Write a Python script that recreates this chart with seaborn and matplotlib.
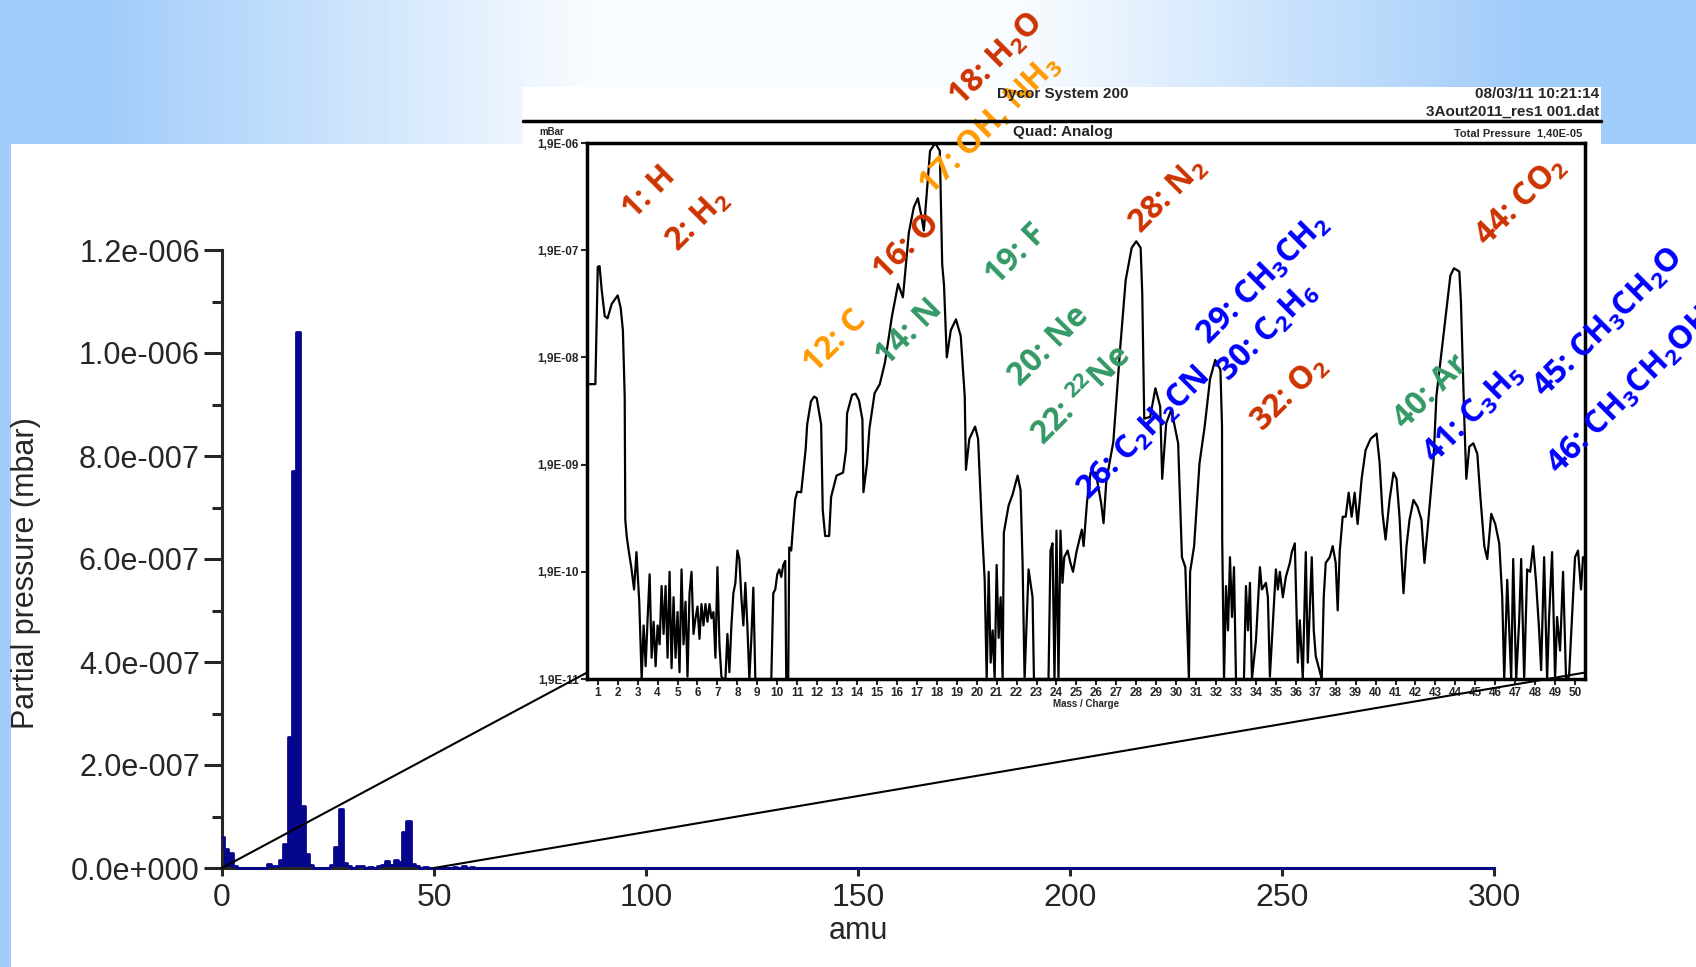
import numpy as np
import seaborn as sns
import matplotlib.pyplot as plt
from matplotlib.patches import ConnectionPatch, Rectangle
from matplotlib.lines import Line2D
from matplotlib.ticker import MultipleLocator, NullLocator

# main spectrum (linear scale), peaks; everything else is 0
main_peak_amu = [0, 1, 2, 3, 11, 12, 13, 14, 15, 16, 17, 18, 19, 20, 21,
                 26, 27, 28, 29, 30, 32, 33, 35,
                 37, 38, 39, 40, 41, 42, 43, 44, 45, 46, 48, 55, 57, 59]
main_peak_mbar = [6.0e-8, 3.7e-8, 2.9e-8, 3e-9, 8e-9, 4e-9, 3e-9, 1.5e-8, 4.6e-8, 2.55e-7, 7.7e-7, 1.04e-6, 1.21e-7, 2.8e-8, 6e-9,
                  5e-9, 4.1e-8, 1.15e-7, 1e-8, 4e-9, 3e-9, 4e-9, 2e-9,
                  4e-9, 5e-9, 1.3e-8, 6e-9, 1.6e-8, 1.1e-8, 7e-8, 9.2e-8, 8e-9, 3e-9, 2e-9, 2e-9, 3e-9, 2e-9]
main_xticks = [0, 50, 100, 150, 200, 250, 300]
main_yticks = [0, 2e-7, 4e-7, 6e-7, 8e-7, 1.0e-6, 1.2e-6]
main_ytick_labels = ['0.0e+000', '2.0e-007', '4.0e-007', '6.0e-007', '8.0e-007', '1.0e-006', '1.2e-006']

# inset: Dycor analog scan, log scale
inset_amu = [
    0.46, 0.88, 1.0, 1.09, 1.2, 1.35, 1.49, 1.7, 2.0, 2.15,
    2.26, 2.35, 2.38, 2.45, 2.55, 2.68, 2.82, 2.94, 3.08, 3.2,
    3.3, 3.4, 3.5, 3.6, 3.7, 3.8, 3.9, 4.0, 4.1, 4.2,
    4.3, 4.4, 4.5, 4.6, 4.7, 4.8, 4.9, 5.0, 5.1, 5.2,
    5.3, 5.4, 5.5, 5.6, 5.7, 5.8, 5.9, 6.0, 6.1, 6.2,
    6.3, 6.4, 6.5, 6.6, 6.7, 6.8, 6.9, 7.0, 7.1, 7.2,
    7.3, 7.4, 7.5, 7.6, 7.7, 7.8, 7.9, 8.0, 8.1, 8.2,
    8.3, 8.4, 8.5, 8.6, 8.7, 8.8, 8.9, 9.7, 9.8, 9.9,
    10.0, 10.1, 10.2, 10.3, 10.4, 10.45, 10.55, 10.6, 10.7, 10.8,
    10.9, 11.0, 11.2, 11.3, 11.42, 11.5, 11.69, 11.85, 11.98, 12.2,
    12.28, 12.4, 12.6, 12.7, 12.97, 13.3, 13.45, 13.5, 13.75, 13.93,
    14.1, 14.27, 14.32, 14.5, 14.62, 14.88, 15.14, 15.4, 15.75, 16.06,
    16.3, 16.6, 16.85, 17.05, 17.2, 17.35, 17.66, 17.92, 18.15, 18.27,
    18.36, 18.5, 18.7, 18.96, 19.2, 19.4, 19.46, 19.63, 19.92, 20.07,
    20.27, 20.4, 20.5, 20.6, 20.7, 20.8, 20.9, 21.0, 21.1, 21.2,
    21.3, 21.36, 21.6, 21.8, 22.05, 22.2, 22.3, 22.4, 22.6, 22.8,
    22.87, 23.6, 23.7, 23.8, 23.9, 24.0, 24.1, 24.2, 24.3, 24.39,
    24.56, 24.7, 24.83, 25.0, 25.27, 25.36, 25.53, 25.71, 25.97, 26.24,
    26.36, 26.5, 26.85, 27.2, 27.47, 27.77, 28.0, 28.22, 28.3, 28.4,
    28.7, 28.96, 29.2, 29.3, 29.5, 29.76, 30.1, 30.29, 30.46, 30.64,
    30.7, 30.9, 31.17, 31.43, 31.7, 31.96, 32.22, 32.3, 32.31, 32.4,
    32.5, 32.6, 32.7, 32.8, 32.9, 33.0, 33.4, 33.5, 33.6, 33.7,
    33.8, 34.0, 34.2, 34.3, 34.5, 34.6, 34.7, 34.8, 35.0, 35.1,
    35.2, 35.35, 35.5, 35.7, 35.8, 35.95, 36.1, 36.2, 36.35, 36.5,
    36.6, 36.8, 36.9, 37.0, 37.3, 37.4, 37.5, 37.7, 37.85, 38.0,
    38.1, 38.2, 38.35, 38.5, 38.65, 38.8, 38.95, 39.1, 39.3, 39.5,
    39.75, 40.05, 40.2, 40.35, 40.5, 40.7, 40.9, 41.05, 41.2, 41.3,
    41.4, 41.55, 41.7, 41.9, 42.1, 42.3, 42.45, 42.6, 42.75, 42.9,
    43.05, 43.4, 43.75, 43.93, 44.2, 44.28, 44.46, 44.55, 44.7, 44.9,
    45.1, 45.25, 45.45, 45.6, 45.8, 46.0, 46.2, 46.35, 46.45, 46.6,
    46.8, 46.9, 47.05, 47.2, 47.3, 47.45, 47.6, 47.75, 47.9, 48.05,
    48.2, 48.3, 48.45, 48.6, 48.7, 48.85, 49.0, 49.1, 49.25, 49.4,
    49.55, 49.7, 49.85, 50.0, 50.15, 50.3, 50.4, 50.5]
inset_mbar = [
    1.07e-8, 1.07e-8, 1.33e-7, 1.35e-7, 8e-8, 4.6e-8, 4.4e-8, 6e-8, 7.2e-8, 5.5e-8,
    3.4e-8, 8.2e-9, 5.8e-10, 4.1e-10, 3e-10, 2.1e-10, 1.3e-10, 2.9e-10, 1.0e-10, 1.9e-11,
    6e-11, 2.5e-11, 7e-11, 1.8e-10, 3e-11, 6.5e-11, 2.5e-11, 6e-11, 4e-11, 1.4e-10,
    5e-11, 1.4e-10, 3e-11, 1.9e-10, 2.4e-11, 1.1e-10, 3e-11, 8e-11, 2.2e-11, 2e-10,
    4e-11, 1e-10, 2e-11, 1.2e-10, 1.9e-10, 5e-11, 7e-11, 9e-11, 4.5e-11, 9.5e-11,
    6e-11, 9.5e-11, 6.5e-11, 9.5e-11, 7e-11, 8e-11, 3e-11, 2.1e-10, 4e-11, 2e-11,
    1.9e-11, 1.9e-11, 5e-11, 2.2e-11, 6e-11, 1.2e-10, 1.5e-10, 3e-10, 2.5e-10, 1.1e-10,
    6e-11, 1.5e-10, 6e-11, 1.9e-11, 4.5e-11, 1.35e-10, 1.9e-11, 1.9e-11, 1.2e-10, 1.3e-10,
    1.8e-10, 2e-10, 1.7e-10, 2.2e-10, 2.4e-10, 1.9e-11, 1.9e-11, 3.2e-10, 3e-10, 5.3e-10,
    9e-10, 1.06e-9, 1.05e-9, 1.6e-9, 2.6e-9, 4.5e-9, 7.4e-9, 8.2e-9, 7.9e-9, 4.5e-9,
    7.2e-10, 4.1e-10, 4.1e-10, 9.5e-10, 1.5e-9, 1.6e-9, 2.6e-9, 5.7e-9, 8.5e-9, 8.7e-9,
    7.5e-9, 5e-9, 1.05e-9, 1.95e-9, 4.1e-9, 8.8e-9, 1.07e-8, 1.7e-8, 4.6e-8, 9.2e-8,
    6.9e-8, 2.8e-7, 4.8e-7, 5.8e-7, 4.2e-7, 2.9e-7, 1.6e-6, 1.9e-6, 1.6e-6, 1.4e-7,
    9e-8, 1.9e-8, 3.4e-8, 4.3e-8, 3e-8, 8.2e-9, 1.7e-9, 3.3e-9, 4.3e-9, 3.3e-9,
    4.6e-10, 1.6e-10, 1.9e-11, 1.9e-10, 2.7e-11, 5.4e-11, 1.9e-11, 2.2e-10, 4.6e-11, 1.1e-10,
    1.9e-11, 4.4e-10, 7.9e-10, 1.0e-9, 1.5e-9, 1.1e-9, 2.3e-10, 1.9e-11, 2e-10, 1.1e-10,
    1.9e-11, 1.9e-11, 3e-10, 3.5e-10, 1.9e-11, 4.6e-10, 1.9e-11, 4.6e-10, 1.5e-10, 2.6e-10,
    3e-10, 2.3e-10, 1.9e-10, 2.9e-10, 4.7e-10, 3.3e-10, 8.5e-10, 1.6e-9, 1.6e-9, 8.3e-10,
    5.4e-10, 1.35e-9, 3.1e-9, 2.4e-8, 1.0e-7, 2.0e-7, 2.3e-7, 2e-7, 7.5e-8, 5.1e-9,
    5.3e-9, 9.8e-9, 6.6e-9, 1.4e-9, 4.6e-9, 6.2e-9, 3.0e-9, 2.6e-10, 2.1e-10, 1.9e-11,
    1.9e-10, 3.3e-10, 1.95e-9, 4.3e-9, 1.2e-8, 1.8e-8, 1.46e-8, 4.3e-9, 3.8e-10, 1.9e-11,
    1.4e-10, 5.4e-11, 2.6e-10, 7.2e-11, 2.1e-10, 1.9e-11, 1.9e-11, 1.4e-10, 5.4e-11, 1.5e-10,
    1.9e-11, 4.3e-11, 2.1e-10, 1.3e-10, 1.5e-10, 1.1e-10, 2e-11, 4.3e-11, 2e-10, 1.3e-10,
    1.9e-10, 1.1e-10, 1.7e-10, 2.3e-10, 2.9e-10, 3.5e-10, 2.7e-11, 6.7e-11, 1.9e-11, 2.9e-10,
    2.7e-11, 2.6e-10, 5.4e-11, 3.1e-11, 1.9e-11, 1.1e-10, 2.3e-10, 2.6e-10, 3.3e-10, 2.3e-10,
    8.3e-11, 2.9e-10, 6.2e-10, 6.2e-10, 1.04e-9, 6.2e-10, 1.04e-9, 5.3e-10, 1.4e-9, 2.6e-9,
    3.3e-9, 3.7e-9, 2e-9, 6.6e-10, 3.8e-10, 8.9e-10, 1.6e-9, 1.4e-9, 6.2e-10, 2.6e-10,
    1.2e-10, 3.3e-10, 5.8e-10, 8.9e-10, 7.7e-10, 5.8e-10, 2.3e-10, 4.6e-10, 9.7e-10, 2e-9,
    8.3e-9, 3.0e-8, 1.1e-7, 1.29e-7, 1.2e-7, 6.2e-8, 4.3e-9, 1.4e-9, 2.8e-9, 3e-9,
    2.4e-9, 9.7e-10, 3.3e-10, 2.5e-10, 6.6e-10, 5.3e-10, 3.5e-10, 1.1e-10, 1.9e-11, 1.6e-10,
    1.9e-11, 2.5e-10, 1.9e-11, 6.7e-11, 2.5e-10, 1.9e-11, 2e-10, 1.9e-10, 3.3e-10, 1.5e-10,
    5.4e-11, 2.3e-11, 2.6e-10, 1.9e-11, 7.2e-11, 2.9e-10, 1.9e-11, 7.2e-11, 3.5e-11, 1.9e-10,
    1.9e-11, 2e-11, 7.2e-11, 2.6e-10, 3e-10, 1.3e-10, 2.6e-10, 2.6e-10]
inset_xticks = list(range(1, 51))
inset_yticks = [1.9e-11, 1.9e-10, 1.9e-9, 1.9e-8, 1.9e-7, 1.9e-6]
inset_ytick_labels = ['1,9E-11', '1,9E-10', '1,9E-09', '1,9E-08', '1,9E-07', '1,9E-06']

# species labels on the inset (centre given in inset amu / mbar)
RED, ORANGE, GREEN, BLUE = '#cc3300', '#ff9900', '#339966', '#0000ff'
label_texts = ['1: H', r'2: H$_{\mathbf{2}}$', '12: C', '14: N', '16: O',
               r'17: OH, NH$_{\mathbf{3}}$', r'18: H$_{\mathbf{2}}$O', '19: F', '20: Ne',
               r'22: $^{\mathbf{22}}$Ne', r'26: C$_{\mathbf{2}}$H$_{\mathbf{2}}$CN',
               r'28: N$_{\mathbf{2}}$', r'29: CH$_{\mathbf{3}}$CH$_{\mathbf{2}}$',
               r'30: C$_{\mathbf{2}}$H$_{\mathbf{6}}$', r'32: O$_{\mathbf{2}}$', '40: Ar',
               r'41: C$_{\mathbf{3}}$H$_{\mathbf{5}}$', r'44: CO$_{\mathbf{2}}$',
               r'45: CH$_{\mathbf{3}}$CH$_{\mathbf{2}}$O', r'46: CH$_{\mathbf{3}}$CH$_{\mathbf{2}}$OH']
label_amu = [3.6, 6.05, 12.9, 16.6, 16.5, 20.7, 21.0, 22.0, 23.6, 25.3,
             28.35, 29.6, 34.4, 34.6, 35.7, 42.8, 44.9, 47.3, 51.7, 52.8]
label_mbar = [6.5e-7, 3.6e-7, 2.65e-8, 3.2e-8, 2.05e-7, 2.8e-6, 1.13e-5, 1.74e-7, 2.42e-8, 8.3e-9,
              3.7e-9, 6.1e-7, 1.02e-7, 3.3e-8, 8.7e-9, 9.1e-9, 5.7e-9, 5.4e-7, 4.0e-8, 9.1e-9]
label_colors = [RED, RED, ORANGE, GREEN, RED, ORANGE, RED, GREEN, GREEN, GREEN,
                BLUE, RED, BLUE, BLUE, RED, GREEN, BLUE, RED, BLUE, BLUE]

NAVY = '#06068c'

sns.set_style('ticks')
plt.rcParams['font.family'] = ['Liberation Sans', 'DejaVu Sans']
plt.rcParams['mathtext.fontset'] = 'custom'
plt.rcParams['mathtext.rm'] = 'Open Sans'
plt.rcParams['mathtext.bf'] = 'Open Sans:bold'

W, H = 1696, 967
fig = plt.figure(figsize=(W / 100, H / 100), dpi=100, facecolor='white')


def box(left, top, right, bottom):
    return [left / W, 1 - bottom / H, (right - left) / W, (bottom - top) / H]


def fpos(x, y):
    return x / W, 1 - y / H


# slide background: blue-white banner on top, thin blue strip at the left
ax_bg = fig.add_axes([0, 0, 1, 1], zorder=-5)
edge = np.array([0.63, 0.80, 0.98])
centre = np.array([0.98, 0.99, 1.0])
pos = np.linspace(0, 1, 500)
mix = np.interp(pos, [0, 0.06, 0.35, 0.6, 0.9, 1], [0, 0, 1, 1, 0, 0])
band = edge[None, :] + mix[:, None] * (centre - edge)[None, :]
ax_bg.imshow(band[None, :, :], extent=(0, W, 144, 0), aspect='auto')
ax_bg.add_patch(Rectangle((0, 144), 11, H - 144, color=edge, lw=0))
ax_bg.set_xlim(0, W)
ax_bg.set_ylim(H, 0)
ax_bg.axis('off')

# main linear spectrum
ax = fig.add_axes(box(222, 250, 1494, 868))
ax.set_facecolor('none')
grid = np.arange(0, 301)
spectrum = np.zeros(grid.size)
spectrum[main_peak_amu] = main_peak_mbar
ax.fill_between(grid, spectrum, step='mid', color=NAVY, lw=0)
sns.lineplot(x=grid, y=spectrum, ax=ax, color=NAVY, lw=2.0, drawstyle='steps-mid',
             estimator=None, clip_on=False, zorder=3)
ax.set_xlim(0, 300)
ax.set_ylim(0, 1.2e-6)
ax.set_xticks(main_xticks)
ax.set_yticks(main_yticks)
ax.set_yticklabels(main_ytick_labels)
ax.yaxis.set_minor_locator(MultipleLocator(1e-7))
ax.tick_params(axis='y', which='major', length=13, width=2.2, labelsize=22, pad=3)
ax.tick_params(axis='y', which='minor', length=7, width=2.2)
ax.tick_params(axis='x', length=6, width=2.2, labelsize=23, pad=5)
sns.despine(ax=ax)
for s in ('left', 'bottom'):
    ax.spines[s].set_linewidth(2.2)
ax.set_xlabel('amu', fontsize=22)
ax.xaxis.set_label_coords(0.5, -0.078)
ax.set_ylabel('Partial pressure (mbar)', fontsize=22)
ax.yaxis.set_label_coords(-0.142, 0.477)

# white sheet behind the inset screenshot
fig.add_artist(Rectangle(fpos(523, 715), 1078 / W, 628 / H, transform=fig.transFigure,
                         facecolor='white', edgecolor='none', zorder=1))
hdr = dict(fontweight='bold', zorder=4, va='center')
fig.text(*fpos(1063, 94), 'Dycor System 200', ha='center', fontsize=11, **hdr)
fig.text(*fpos(1599, 94), '08/03/11 10:21:14', ha='right', fontsize=11, **hdr)
fig.text(*fpos(1599, 112), '3Aout2011_res1 001.dat', ha='right', fontsize=11, **hdr)
fig.text(*fpos(1063, 132), 'Quad: Analog', ha='center', fontsize=11, **hdr)
fig.text(*fpos(552, 132), 'mBar', ha='center', fontsize=7, **hdr)
fig.text(*fpos(1582, 133), 'Total Pressure  1,40E-05', ha='right', fontsize=8, **hdr)
fig.add_artist(Line2D([523 / W, 1601 / W], [1 - 121 / H, 1 - 121 / H], color='black',
                      lw=2.5, transform=fig.transFigure, zorder=4))

# inset: log scan 1-50 amu
ax_in = fig.add_axes(box(587, 143, 1585, 679), zorder=2)
sns.lineplot(x=inset_amu, y=inset_mbar, ax=ax_in, color='black', lw=1.6,
             estimator=None, sort=False)
ax_in.set_yscale('log')
ax_in.set_xlim(0.46, 50.5)
ax_in.set_ylim(1.9e-11, 1.9e-6)
ax_in.set_xticks(inset_xticks)
ax_in.set_xticklabels([str(t) for t in inset_xticks])
ax_in.set_yticks(inset_yticks)
ax_in.set_yticklabels(inset_ytick_labels)
ax_in.yaxis.set_minor_locator(NullLocator())
ax_in.tick_params(length=4, width=1.5, labelsize=8.5, pad=2)
for lbl in ax_in.get_xticklabels() + ax_in.get_yticklabels():
    lbl.set_fontweight('bold')
for s in ax_in.spines.values():
    s.set_linewidth(2.5)
    s.set_color('black')
ax_in.set_xlabel('Mass / Charge', fontsize=7, fontweight='bold', labelpad=0)

for t, a, m, c in zip(label_texts, label_amu, label_mbar, label_colors):
    ax_in.text(a, m, t, color=c, fontsize=23, fontweight='bold', family='Open Sans',
               rotation=45, ha='center', va='center', clip_on=False, zorder=10)

# zoom connector lines from the 0-50 amu range to the inset
for xa, xb in ((0, 0), (50, 1)):
    fig.add_artist(ConnectionPatch(xyA=(xa, 0), coordsA=ax.transData,
                                   xyB=(xb, 0.012), coordsB=ax_in.transAxes,
                                   color='black', lw=1.5, zorder=3))

fig.savefig('out.png', dpi=100, facecolor='white')
